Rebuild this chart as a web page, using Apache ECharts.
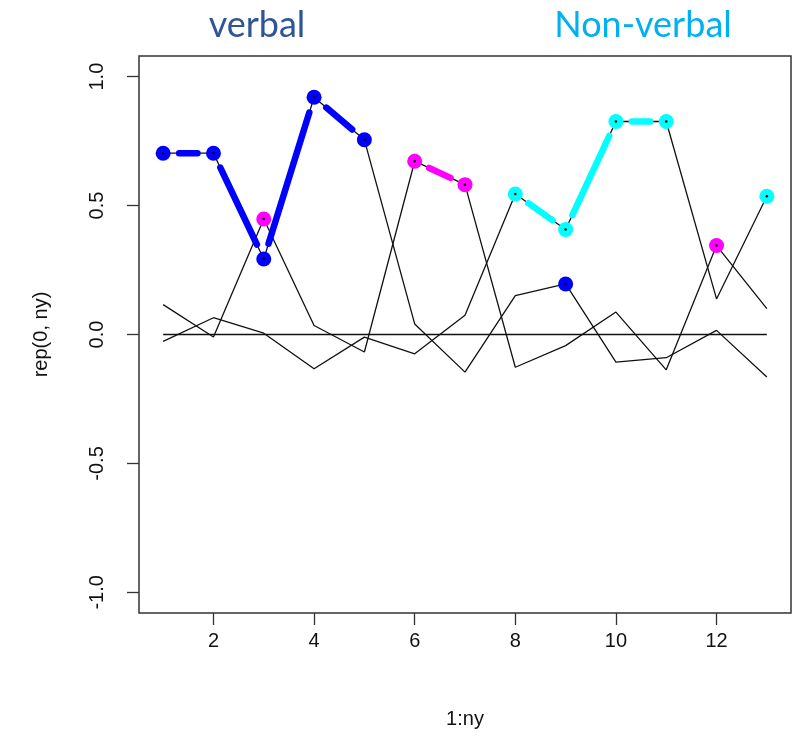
<!DOCTYPE html>
<html>
<head>
<meta charset="utf-8">
<script src="https://cdn.jsdelivr.net/npm/echarts@6/dist/echarts.min.js"></script>
<style>
  html, body { margin: 0; padding: 0; background: #fff; }
  #main { width: 792px; height: 744px; }
</style>
</head>
<body>
<div id="main"></div>
<script>
// x positions 1:ny
var xs = [1, 2, 3, 4, 5, 6, 7, 8, 9, 10, 11, 12, 13];
// the three black curves
var lineA = [0.703, 0.703, 0.293, 0.92, 0.755, 0.041, -0.146, 0.151, 0.196, -0.107, -0.09, 0.016, -0.165];
var lineB = [0.116, -0.01, 0.448, 0.035, -0.068, 0.672, 0.581, -0.127, -0.043, 0.087, -0.137, 0.345, 0.1];
var lineC = [-0.027, 0.065, 0.005, -0.133, -0.01, -0.075, 0.075, 0.545, 0.407, 0.826, 0.826, 0.138, 0.536];
var zeroLine = [0, 0, 0, 0, 0, 0, 0, 0, 0, 0, 0, 0, 0];
// highlighted points (null = not highlighted)
var blueVals = [0.703, 0.703, 0.293, 0.92, 0.755, null, null, null, 0.196, null, null, null, null];
var magentaVals = [null, null, 0.448, null, null, 0.672, 0.581, null, null, null, null, 0.345, null];
var cyanVals = [null, null, null, null, null, null, null, 0.545, 0.407, 0.826, 0.826, null, 0.536];
var yTicks = [-1, -0.5, 0, 0.5, 1];
var xTicks = [2, 4, 6, 8, 10, 12];

function pts(vals) {
  var out = [];
  for (var i = 0; i < xs.length; i++) {
    if (vals[i] !== null) out.push([xs[i], vals[i]]);
  }
  return out;
}
function segs(vals) {
  var out = [];
  for (var i = 0; i < xs.length - 1; i++) {
    if (vals[i] !== null && vals[i + 1] !== null) out.push([xs[i], vals[i], xs[i + 1], vals[i + 1]]);
  }
  return out;
}
function blackLine(vals) {
  return {
    type: 'line', data: xs.map(function (x, i) { return [x, vals[i]]; }),
    symbol: 'none', lineStyle: { color: '#111', width: 1.3 }, z: 2, silent: true
  };
}
// thick segments with gaps around the points (like R type="b")
function thickSegs(vals, color) {
  return {
    type: 'custom', data: segs(vals), encode: { x: [0, 2], y: [1, 3] }, z: 3, silent: true,
    renderItem: function (params, api) {
      var p1 = api.coord([api.value(0), api.value(1)]);
      var p2 = api.coord([api.value(2), api.value(3)]);
      var dx = p2[0] - p1[0], dy = p2[1] - p1[1];
      var len = Math.sqrt(dx * dx + dy * dy);
      var g = 16;
      if (len <= 2 * g) return;
      var ux = dx / len, uy = dy / len;
      return {
        type: 'line',
        shape: { x1: p1[0] + ux * g, y1: p1[1] + uy * g, x2: p2[0] - ux * g, y2: p2[1] - uy * g },
        style: { stroke: color, lineWidth: 6.5, lineCap: 'round' }
      };
    }
  };
}
function dots(vals, color) {
  return { type: 'scatter', data: pts(vals), symbol: 'circle', symbolSize: 15, itemStyle: { color: color, opacity: 1 }, z: 4, silent: true };
}
function centers(vals) {
  return { type: 'scatter', data: pts(vals), symbol: 'circle', symbolSize: 2.5, itemStyle: { color: '#000', opacity: 1 }, z: 5, silent: true };
}

var chart = echarts.init(document.getElementById('main'), null, { renderer: 'canvas' });
var labelFont = 'Liberation Sans';
chart.setOption({
  animation: false,
  backgroundColor: '#fff',
  grid: { left: 139, top: 56, right: 1, bottom: 131, show: true, borderColor: '#333', borderWidth: 1.5, backgroundColor: 'transparent' },
  xAxis: {
    type: 'value', min: 0.52, max: 13.48,
    name: '1:ny', nameLocation: 'middle', nameGap: 96,
    nameTextStyle: { fontFamily: labelFont, fontSize: 20, color: '#111' },
    axisLine: { show: false, onZero: false },
    axisTick: { show: true, length: 12, customValues: xTicks, lineStyle: { color: '#333', width: 1.3 } },
    axisLabel: { customValues: xTicks, margin: 18, fontFamily: labelFont, fontSize: 20, color: '#111' },
    splitLine: { show: false }
  },
  yAxis: {
    type: 'value', min: -1.08, max: 1.08,
    name: 'rep(0, ny)', nameLocation: 'middle', nameGap: 88, nameRotate: 90,
    nameTextStyle: { fontFamily: labelFont, fontSize: 20, color: '#111' },
    axisLine: { show: false, onZero: false },
    axisTick: { show: true, length: 12, customValues: yTicks, lineStyle: { color: '#333', width: 1.3 } },
    axisLabel: {
      customValues: yTicks, rotate: 90, margin: 32, fontFamily: labelFont, fontSize: 20, color: '#111',
      formatter: function (v) { return v.toFixed(1); }
    },
    splitLine: { show: false }
  },
  graphic: [
    { type: 'text', x: 257, y: 25, style: { text: 'verbal', fill: '#2F5597', font: '36px Lato', align: 'center', verticalAlign: 'middle' } },
    { type: 'text', x: 643, y: 25, style: { text: 'Non-verbal', fill: '#00B0F0', font: '36px Lato', align: 'center', verticalAlign: 'middle' } }
  ],
  series: [
    blackLine(zeroLine),
    blackLine(lineA),
    blackLine(lineB),
    blackLine(lineC),
    thickSegs(blueVals, '#0000FF'),
    thickSegs(magentaVals, '#FF00FF'),
    thickSegs(cyanVals, '#00FFFF'),
    dots(blueVals, '#0000FF'),
    dots(magentaVals, '#FF00FF'),
    dots(cyanVals, '#00FFFF'),
    centers(blueVals),
    centers(magentaVals),
    centers(cyanVals)
  ]
});
</script>
</body>
</html>
